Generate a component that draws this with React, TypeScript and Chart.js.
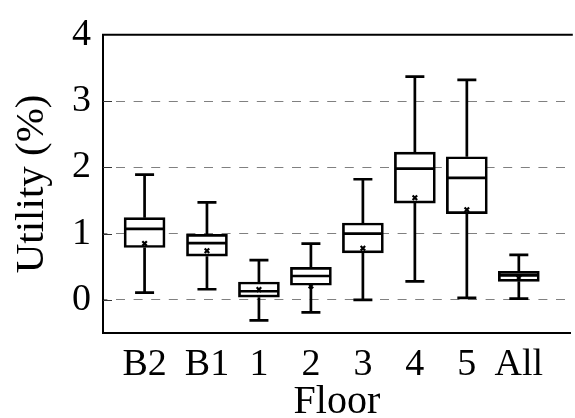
import React, { useEffect, useRef } from "react";
import { Chart, registerables } from "chart.js";

Chart.register(...registerables);

const floorLabels = ["B2", "B1", "1", "2", "3", "4", "5", "All"];
const floorX = [0.8, 2, 3, 4, 5, 6, 7, 8];
const whiskerLow = [0.11, 0.16, -0.31, -0.19, 0.0, 0.28, 0.03, 0.02];
const q1Values = [0.79, 0.66, 0.04, 0.22, 0.71, 1.46, 1.3, 0.28];
const medianValues = [1.07, 0.855, 0.13, 0.36, 1.0, 1.98, 1.84, 0.37];
const q3Values = [1.24, 0.99, 0.27, 0.49, 1.16, 2.23, 2.16, 0.43];
const whiskerHigh = [1.89, 1.47, 0.6, 0.85, 1.82, 3.37, 3.32, 0.68];
const meanValues = [0.85, 0.74, 0.155, 0.21, 0.78, 1.54, 1.36, 0.33];
const yTickValues = [0, 1, 2, 3, 4];

const FONT = "Liberation Serif";
const BOX_WIDTH = 41;
const CAP_WIDTH = 19;
const LINE_W = 2.7;

Chart.defaults.font.family = FONT;
Chart.defaults.color = "#000";

const boxPlugin = {
  id: "boxParts",
  beforeDatasetsDraw(chart: any) {
    const { ctx, chartArea } = chart;
    const ys = chart.scales.y;
    ctx.save();
    ctx.strokeStyle = "#000";
    ctx.lineWidth = 2;
    ctx.beginPath();
    ctx.moveTo(chartArea.left - 1, chartArea.top);
    ctx.lineTo(chartArea.right + 2, chartArea.top);
    ctx.stroke();
    ctx.lineWidth = 1;
    ctx.strokeStyle = "#333";
    ctx.beginPath();
    for (const v of yTickValues) {
      if (v === 4) continue;
      const y = Math.round(ys.getPixelForValue(v)) + 0.5;
      ctx.moveTo(chartArea.left, y);
      ctx.lineTo(chartArea.left + 9, y);
    }
    ctx.stroke();
    ctx.restore();
  },
  afterDatasetsDraw(chart: any) {
    const { ctx } = chart;
    const xs = chart.scales.x;
    const ys = chart.scales.y;
    ctx.save();
    ctx.strokeStyle = "#000";
    ctx.lineWidth = LINE_W;
    ctx.lineCap = "butt";
    for (let i = 0; i < floorX.length; i++) {
      const x = xs.getPixelForValue(floorX[i]);
      const yLo = ys.getPixelForValue(whiskerLow[i]);
      const yQ1 = ys.getPixelForValue(q1Values[i]);
      const yMed = ys.getPixelForValue(medianValues[i]);
      const yQ3 = ys.getPixelForValue(q3Values[i]);
      const yHi = ys.getPixelForValue(whiskerHigh[i]);
      ctx.beginPath();
      ctx.moveTo(x, yQ3);
      ctx.lineTo(x, yHi);
      ctx.moveTo(x, yQ1);
      ctx.lineTo(x, yLo);
      ctx.moveTo(x - CAP_WIDTH / 2, yHi);
      ctx.lineTo(x + CAP_WIDTH / 2, yHi);
      ctx.moveTo(x - CAP_WIDTH / 2, yLo);
      ctx.lineTo(x + CAP_WIDTH / 2, yLo);
      ctx.moveTo(x - BOX_WIDTH / 2 + 1, yMed);
      ctx.lineTo(x + BOX_WIDTH / 2 - 1, yMed);
      ctx.stroke();
    }
    ctx.restore();
  },
};

export default function App() {
  const ref = useRef<HTMLCanvasElement | null>(null);

  useEffect(() => {
    if (!ref.current) return;
    const chart = new Chart(ref.current, {
      type: "bar",
      data: {
        datasets: [
          {
            type: "scatter",
            label: "Mean",
            data: floorX.map((x, i) => ({ x, y: meanValues[i] })),
            pointStyle: "crossRot",
            radius: 3.2,
            borderWidth: 2.2,
            borderColor: "#000",
            backgroundColor: "#000",
            order: 0,
          } as any,
          {
            type: "bar",
            label: "Box",
            data: floorX.map((x, i) => ({ x, y: [q1Values[i], q3Values[i]] })) as any,
            backgroundColor: "#fff",
            borderColor: "#000",
            borderWidth: LINE_W,
            borderSkipped: false,
            barThickness: BOX_WIDTH,
            grouped: false,
            order: 1,
          } as any,
        ],
      },
      options: {
        animation: false,
        responsive: false,
        maintainAspectRatio: false,
        layout: { padding: { top: 22, left: 0, right: 0, bottom: 0 } },
        plugins: {
          legend: { display: false },
          tooltip: { enabled: false },
        },
        scales: {
          x: {
            type: "linear",
            min: 0,
            max: 9,
            offset: false,
            grid: { display: false, drawTicks: false, offset: false },
            border: { display: true, color: "#000", width: 2 },
            afterBuildTicks: (scale: any) => {
              scale.ticks = floorX.map((v) => ({ value: v }));
            },
            afterFit: (scale: any) => {
              scale.height = 85;
              scale.paddingLeft = 0;
              scale.paddingRight = 0;
            },
            ticks: {
              color: "#000",
              font: { family: FONT, size: 38 },
              padding: 9,
              maxRotation: 0,
              autoSkip: false,
              callback: (_v: any, index: number) => floorLabels[index],
            },
            title: {
              display: true,
              text: "Floor",
              color: "#000",
              font: { family: FONT, size: 40, lineHeight: 0.8 },
              padding: { top: 0, bottom: 0 },
            },
          },
          y: {
            type: "linear",
            min: -0.5,
            max: 4,
            afterBuildTicks: (scale: any) => {
              scale.ticks = yTickValues.map((v) => ({ value: v }));
            },
            afterFit: (scale: any) => {
              scale.width = 103;
            },
            grid: {
              drawTicks: false,
              color: (c: any) => (c.tick && c.tick.value === 4 ? "rgba(0,0,0,0)" : "#808080"),
              lineWidth: 1,
            },
            border: { display: true, color: "#000", width: 2, dash: [9, 8.6], dashOffset: 5.6 },
            ticks: {
              color: "#000",
              font: { family: FONT, size: 38 },
              padding: 12,
              callback: (v: any) => String(v),
            },
            title: {
              display: true,
              text: "Utility (%)",
              color: "#000",
              font: { family: FONT, size: 41, lineHeight: 1.2 },
              padding: { top: 8, bottom: 0 },
            },
          },
        },
      },
      plugins: [boxPlugin],
    });
    return () => chart.destroy();
  }, []);

  return (
    <div
      style={{
        position: "fixed",
        left: 0,
        top: 0,
        width: 575,
        height: 418,
        overflow: "hidden",
        background: "#fff",
      }}
    >
      <canvas ref={ref} width={577} height={418} style={{ display: "block" }} />
    </div>
  );
}
